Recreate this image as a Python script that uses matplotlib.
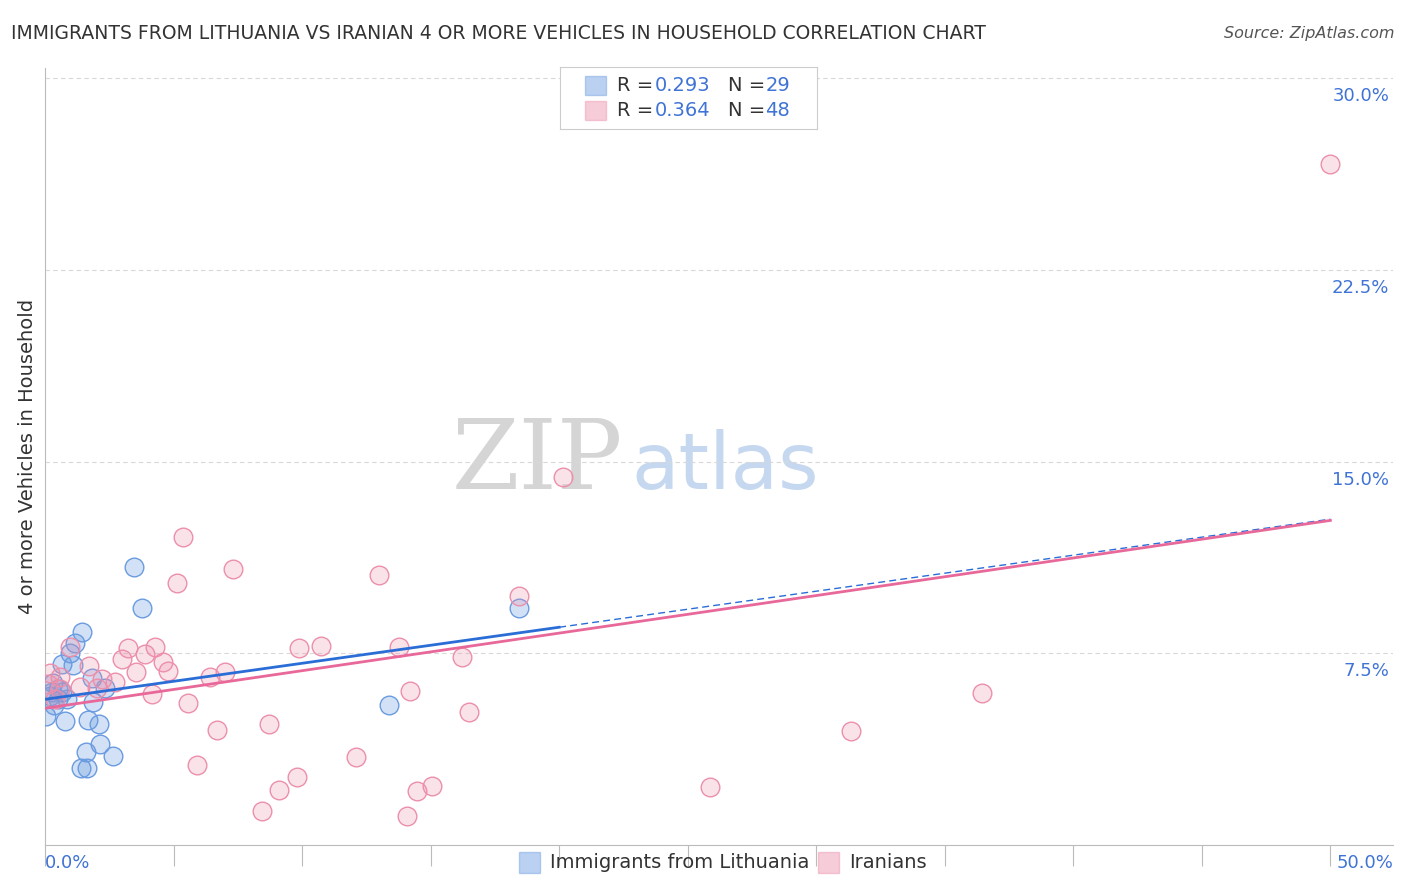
import numpy as np
import matplotlib.pyplot as plt

# data (percent)
blue_x = [3.46, 3.77, 18.44, 1.44, 1.17, 0.97, 0.66, 1.09, 1.83, 2.33, 0.31, 0.51, 0.66, 0.19, 0.86,
          1.87, 0.35, 0.04, 0.78, 1.67, 2.10, 13.39, 2.14, 1.60, 2.65, 1.40, 1.63, 0.50, 0.27]
blue_y = [10.86, 9.26, 9.26, 8.32, 7.89, 7.50, 7.10, 7.03, 6.52, 6.13, 6.33, 6.09, 5.98, 5.82, 5.70,
          5.59, 5.47, 5.04, 4.84, 4.88, 4.73, 5.47, 3.95, 3.63, 3.48, 3.00, 3.00, 5.70, 5.98]
pink_x = [50.0, 20.16, 5.37, 5.14, 7.32, 13.0, 18.44, 3.23, 4.28, 9.88, 10.74, 13.77, 0.97, 3.89,
          3.0, 4.59, 1.71, 4.79, 3.54, 16.23, 7.0, 6.42, 0.19, 0.58, 2.22, 2.72, 1.36, 2.02, 0.58,
          4.16, 14.2, 36.46, 5.56, 16.5, 8.72, 6.69, 31.36, 12.1, 5.91, 9.8, 9.1, 15.06, 14.47,
          25.88, 8.44, 14.09, 0.10, 0.40]
pink_y = [26.64, 14.38, 12.07, 10.27, 10.78, 10.55, 9.73, 7.70, 7.73, 7.70, 7.77, 7.73, 7.73, 7.46,
          7.27, 7.15, 6.99, 6.80, 6.76, 7.34, 6.76, 6.56, 6.72, 6.56, 6.48, 6.37, 6.17, 6.13, 6.09,
          5.90, 6.02, 5.94, 5.55, 5.20, 4.73, 4.49, 4.45, 3.44, 3.13, 2.66, 2.15, 2.30, 2.11,
          2.27, 1.33, 1.13, 6.30, 5.70]
# trend lines: intercept, slope
blue_fit = (5.70, 0.141)
pink_fit = (5.35, 0.147)

BLUE = "#6a9be0"
PINK = "#ec8fab"
BLUE_LINE = "#2a6dd6"
PINK_LINE = "#e8689a"
LABEL = "#3f73d6"

fig = plt.figure(figsize=(14.06, 8.92), dpi=100)
ax = fig.add_axes([0.032, 0.0527, 0.959, 0.871])
ax.set_xlim(0, 52.45)
ax.set_ylim(0, 30.4)

ax.scatter(blue_x, blue_y, s=180, facecolor=(0.42, 0.61, 0.88, 0.3), edgecolor=BLUE, lw=1.0, zorder=3)
ax.scatter(pink_x, pink_y, s=180, facecolor=(0.93, 0.56, 0.67, 0.25), edgecolor=PINK, lw=1.0, zorder=3)

xs = np.array([0, 20])
ax.plot(xs, blue_fit[0] + blue_fit[1] * xs, color=BLUE_LINE, lw=2, zorder=4)
xd = np.array([20, 50])
ax.plot(xd, blue_fit[0] + blue_fit[1] * xd, color=BLUE_LINE, lw=1, ls=(0, (5, 3)), zorder=4)
xp = np.array([0, 50])
ax.plot(xp, pink_fit[0] + pink_fit[1] * xp, color=PINK_LINE, lw=2, zorder=4)

for v in [7.5, 15, 22.5, 30]:
    ax.axhline(v, color="#d8d8d8", lw=0.8, ls=(0, (4, 3)), zorder=1)
    ax.text(52.3, v - 0.35, f"{v:.1f}%", color=LABEL, fontsize=13, ha="right", va="top")

for s in ["top", "right"]:
    ax.spines[s].set_visible(False)
ax.spines["left"].set_color("#bbbbbb")
ax.spines["bottom"].set_color("#bbbbbb")
ax.set_yticks([])
ax.set_xticks(np.arange(0, 55, 5))
ax.set_xticklabels([])
ax.tick_params(axis="x", length=15, color="#bbbbbb")
fig.text(0.032, 0.033, "0.0%", color=LABEL, fontsize=13, ha="left", va="center")
fig.text(0.991, 0.033, "50.0%", color=LABEL, fontsize=13, ha="right", va="center")
ax.set_ylabel("4 or more Vehicles in Household", fontsize=14, color="#333333", labelpad=6)

ax.text(22.5, 15, "ZIP", fontsize=70, color="#d5d5d5", ha="right", va="center",
        family="DejaVu Serif", zorder=0)
ax.text(22.8, 14.8, "atlas", fontsize=56, color="#c5d8f0", ha="left", va="center", zorder=0)

fig.text(0.008, 0.963, "IMMIGRANTS FROM LITHUANIA VS IRANIAN 4 OR MORE VEHICLES IN HOUSEHOLD CORRELATION CHART",
         fontsize=13.5, color="#333333", va="center")
fig.text(0.992, 0.963, "Source: ZipAtlas.com", fontsize=11.5, color="#555555", ha="right",
         va="center", style="italic")

# top legend
lg = fig.add_axes([0.398, 0.855, 0.183, 0.07])
lg.set_xlim(0, 1); lg.set_ylim(0, 1)
lg.set_xticks([]); lg.set_yticks([])
for s in lg.spines.values():
    s.set_color("#cccccc")
rows = [(0.70, BLUE, "0.293", "29"), (0.30, PINK, "0.364", "48")]
for yy, c, r, n in rows:
    lg.add_patch(plt.Rectangle((0.1, yy - 0.15), 0.08, 0.3, facecolor=c, alpha=0.45, edgecolor=c))
    lg.text(0.225, yy, "R =", fontsize=14, color="#333333", va="center")
    lg.text(0.37, yy, r, fontsize=14, color=LABEL, va="center")
    lg.text(0.655, yy, "N =", fontsize=14, color="#333333", va="center")
    lg.text(0.80, yy, n, fontsize=14, color=LABEL, va="center")

# bottom legend
for x0, c, t in [(0.369, BLUE, "Immigrants from Lithuania"), (0.582, PINK, "Iranians")]:
    fig.patches.append(plt.Rectangle((x0, 0.021), 0.015, 0.024, facecolor=c, alpha=0.45,
                                     edgecolor=c, transform=fig.transFigure, figure=fig))
    fig.text(x0 + 0.022, 0.033, t, fontsize=14, color="#333333", va="center")

fig.savefig("out.png", dpi=100)
